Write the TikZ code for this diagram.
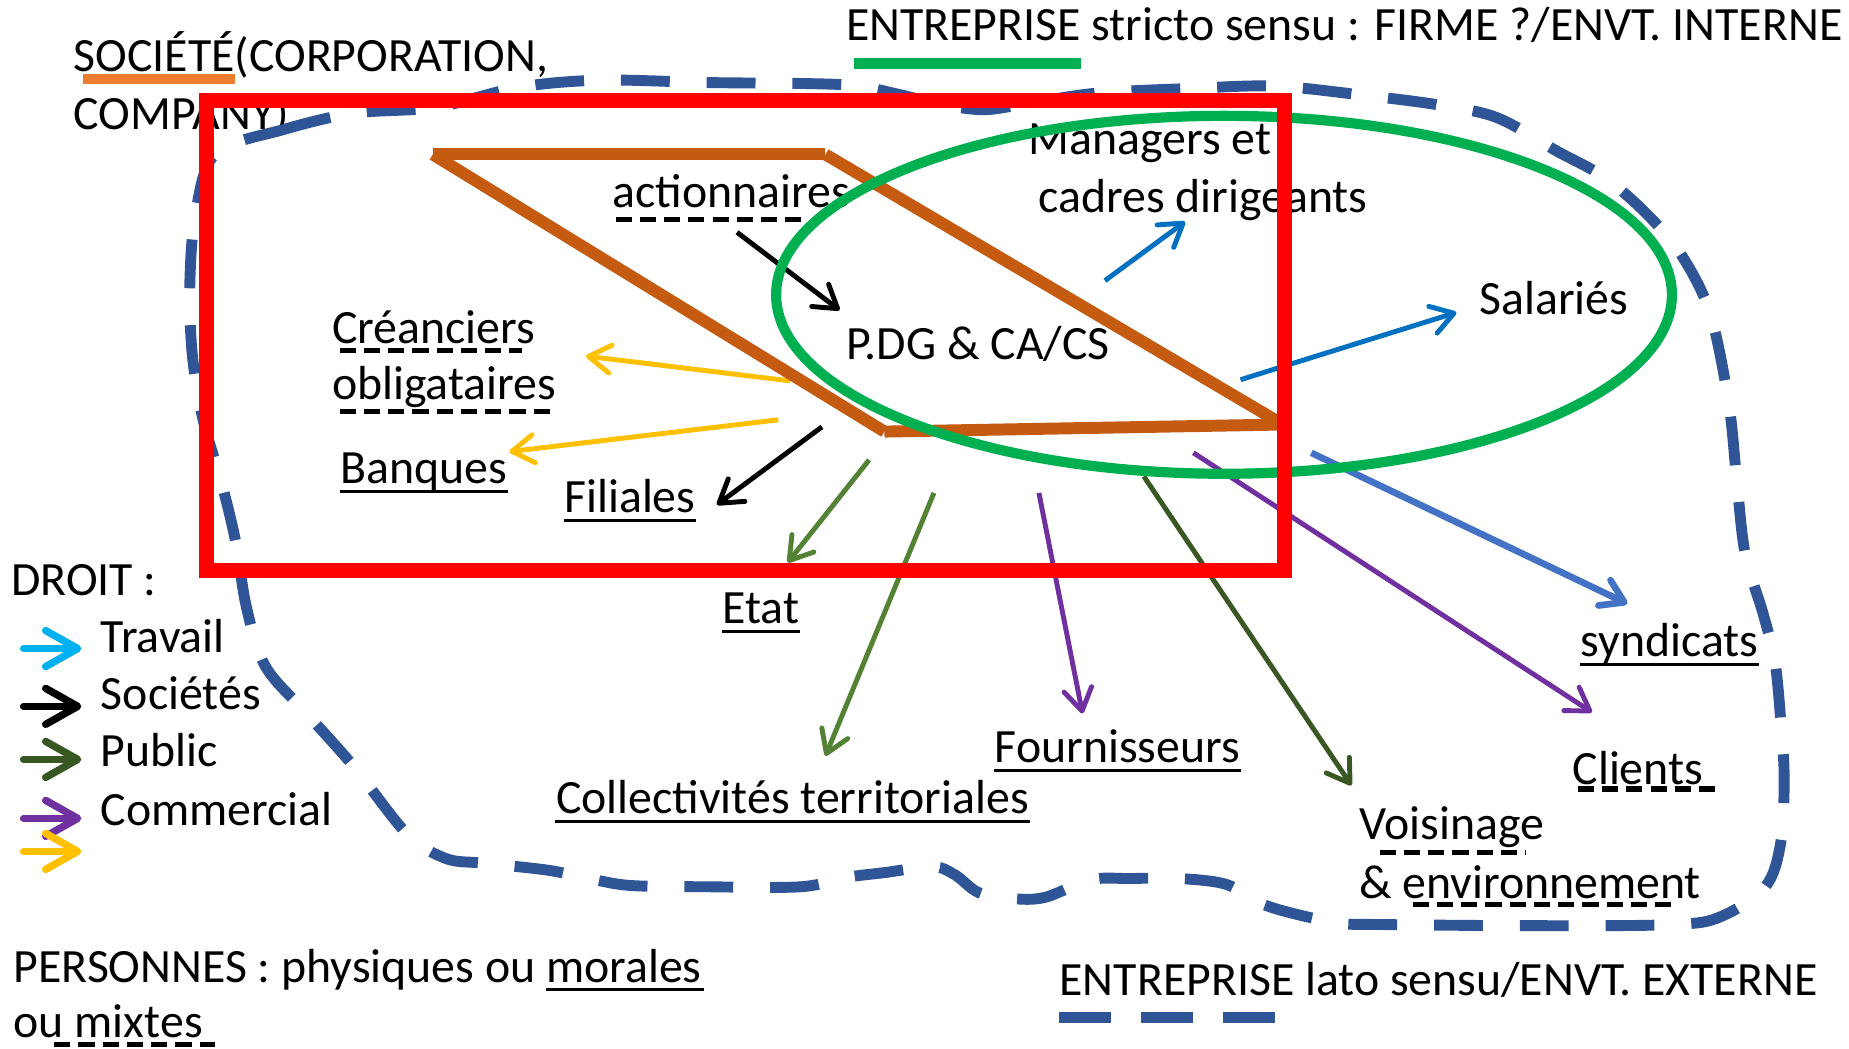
\documentclass[tikz,border=0pt]{standalone}
\usepackage{fontspec}
\setmainfont{Carlito}
\usetikzlibrary{positioning}
\usetikzlibrary{arrows.meta}
\definecolor{rougeR}{HTML}{FF0000}
\definecolor{brunS}{HTML}{C55A11}
\definecolor{vertE}{HTML}{00B050}
\definecolor{bleuP}{HTML}{2F5597}
\definecolor{orangeS}{HTML}{ED7D31}
\definecolor{bleuF}{HTML}{0070C0}
\definecolor{bleuS}{HTML}{4472C4}
\definecolor{cyanT}{HTML}{00B0F0}
\definecolor{vertP}{HTML}{385723}
\definecolor{vertC}{HTML}{548235}
\definecolor{violetC}{HTML}{7030A0}
\definecolor{jauneB}{HTML}{FFC000}

\begin{document}
\begin{tikzpicture}[x=0.01179cm,y=-0.01179cm,
	txt/.style={inner sep=0pt,anchor=base west,font=\fontsize{13.6}{16.3}\selectfont},
	fl/.style={line width=1.4pt,-{Straight Barb[length=2.2mm,width=2.8mm,round]}},
	flg/.style={line width=2.1pt,line cap=round,-{Straight Barb[length=3.2mm,width=3.6mm,round]}},
	sou/.style={line width=0.9pt},
	soup/.style={line width=1.5pt,dash pattern=on 4.6pt off 2.3pt},
	bord/.style={line width=3.4pt}]
	\useasboundingbox (0,0) rectangle (1568,889);
	\node [txt] at (62,61) (0soc) {SOCIÉTÉ(CORPORATION,}; \node [below=0.578cm of 0soc.base west,txt] (0comp) {COMPANY)};
	\node [txt] at (717,34) (0stricto) {ENTREPRISE stricto sensu : FIRME ?/ENVT. INTERNE};
	\node [txt] at (872,131) (1man) {Managers et}; \node [below right=0.578cm and 0.094cm of 1man.base west,txt] (1cad) {cadres dirigeants};
	\node [txt] at (519,176) (1act) {actionnaires};
	\node [txt] at (717,305) (1pdg) {P.DG \& CA/CS};
	\node [txt] at (1254,267) (1sal) {Salariés};
	\node [txt] at (281,291) (2cre) {Créanciers}; \node [below=0.566cm of 2cre.base west,txt] (2obl) {obligataires};
	\node [txt] at (288,410) (2ban) {Banques};
	\node [txt] at (478,435) (2fil) {Filiales};
	\node [txt] at (612,529) (2etat) {Etat};
	\node [txt] at (471,690) (2coll) {Collectivités territoriales};
	\node [txt] at (843,647) (2four) {Fournisseurs};
	\node [txt] at (1340,557) (2synd) {syndicats};
	\node [txt] at (1333,665) (2cli) {Clients};
	\node [txt] at (1152,712) (2vois) {Voisinage}; \node [below=0.59cm of 2vois.base west,txt] (2env) {\& environnement};
	\node [txt] at (898,844) (3lato) {ENTREPRISE lato sensu/ENVT. EXTERNE};
	\node [txt] at (9,505) (3droit) {DROIT :};
	\node [txt] at (85,553) (3trav) {Travail}; \node [below=0.578cm of 3trav.base west,txt] (3soc) {Sociétés};
	\node [below=0.566cm of 3soc.base west,txt] (3pub) {Public}; \node [below=0.59cm of 3pub.base west,txt] (3com) {Commercial};
	\node [txt] at (11,833) (3pers) {PERSONNES : physiques ou morales}; \node [below=0.554cm of 3pers.base west,txt] (3mix) {ou mixtes};
	\coordinate (l1) at (20,550); \coordinate (m1) at (69,550); \coordinate (l2) at (20,599); \coordinate (m2) at (69,599);
	\coordinate (l3) at (20,644); \coordinate (m3) at (69,644); \coordinate (l4) at (20,694); \coordinate (m4) at (69,694);
	\coordinate (l5) at (20,722); \coordinate (m5) at (69,722);
	\draw [flg,cyanT] (l1)--(m1); \draw [flg,black] (l2)--(m2); \draw [flg,vertP] (l3)--(m3); \draw [flg,violetC] (l4)--(m4); \draw [flg,jauneB] (l5)--(m5);
	\coordinate (a1) at (625,197); \coordinate (b1) at (712,263); \draw [fl,black] (a1)--(b1);
	\coordinate (a2) at (937,238); \coordinate (b2) at (1005,188); \draw [fl,bleuF] (a2)--(b2);
	\coordinate (a3) at (1052,322); \coordinate (b3) at (1235,265); \draw [fl,bleuF] (a3)--(b3);
	\coordinate (a4) at (670,323); \coordinate (b4) at (497,302); \draw [fl,jauneB] (a4)--(b4);
	\coordinate (a5) at (660,356); \coordinate (b5) at (432,383); \draw [fl,jauneB] (a5)--(b5);
	\coordinate (a6) at (697,362); \coordinate (b6) at (608,428); \draw [fl,black] (a6)--(b6);
	\coordinate (a7) at (737,390); \coordinate (b7) at (668,477); \draw [fl,vertC] (a7)--(b7);
	\coordinate (a8) at (792,418); \coordinate (b8) at (700,641); \draw [fl,vertC] (a8)--(b8);
	\coordinate (a9) at (881,418); \coordinate (b9) at (918,605); \draw [fl,violetC] (a9)--(b9);
	\coordinate (a10) at (970,404); \coordinate (b10) at (1146,666); \draw [fl,vertP] (a10)--(b10);
	\coordinate (a11) at (1012,384); \coordinate (b11) at (1350,604); \draw [fl,violetC] (a11)--(b11);
	\coordinate (a12) at (1112,384); \coordinate (b12) at (1380,512); \draw [fl,bleuS,line width=1.9pt] (a12)--(b12);
	\draw [bleuP,line width=3.1pt,dash pattern=on 13.9pt off 10.5pt] plot [smooth cycle,tension=0.55] coordinates {(183,130) (240,110) (300,96) (370,91) (440,74) (510,68) (600,70) (690,71) (728,73) (762,80) (800,89) (835,93) (870,88) (930,79) (1010,75) (1080,73) (1150,80) (1220,89) (1270,100) (1320,128) (1360,150) (1395,180) (1425,215) (1450,265) (1466,342) (1473,410) (1480,470) (1495,520) (1505,560) (1510,610) (1513,660) (1510,715) (1497,752) (1460,777) (1420,784) (1300,785) (1170,784) (1137,783) (1098,775) (1069,766) (1040,750) (1000,745) (958,745) (925,746) (886,761) (858,762) (830,757) (810,742) (791,735) (750,740) (718,744) (679,752) (600,752) (536,751) (504,746) (465,738) (410,732) (378,728) (345,707) (300,650) (260,605) (225,565) (209,515) (200,460) (188,410) (172,355) (163,300) (161,240) (166,180)};
	\coordinate (p1) at (367,131); \coordinate (p2) at (700,131); \coordinate (p3) at (1088,360); \coordinate (p4) at (750,366);
	\draw [bord,brunS] (p1)--(p2); \draw [bord,brunS] (p2)--(p3); \draw [bord,brunS] (p3)--(p4); \draw [bord,brunS] (p4)--(p1);
	\draw [vertE,line width=2.9pt] (1038,250) ellipse [x radius=4.48cm,y radius=1.79cm];
	\draw [rougeR,line width=4.2pt] (175,85.5) rectangle (1089,484);
	\draw [sou] ([yshift=-2.2pt]2ban.base west)--([yshift=-2.2pt]2ban.base east); \draw [sou] ([yshift=-2.2pt]2fil.base west)--([yshift=-2.2pt]2fil.base east);
	\draw [sou] ([yshift=-2.2pt]2etat.base west)--([yshift=-2.2pt]2etat.base east); \draw [sou] ([yshift=-2.2pt]2coll.base west)--([yshift=-2.2pt]2coll.base east);
	\draw [sou] ([yshift=-2.2pt]2four.base west)--([yshift=-2.2pt]2four.base east); \draw [sou] ([yshift=-2.2pt]2synd.base west)--([yshift=-2.2pt]2synd.base east);
	\draw [sou] (463,839)--(597,839);
	\draw [soup] (522,186)--(683,186); \draw [soup] (288,297)--(443,297); \draw [soup] (288,349)--(469,349);
	\draw [soup] (1338,669)--(1456,669); \draw [soup] (1170,723)--(1294,723); \draw [soup] (1198,767)--(1419,767); \draw [soup] (46,886)--(182,886);
	\draw [orangeS,line width=2.7pt] (70,67)--(199,67); \draw [vertE,line width=3.3pt] (724,54)--(917,54);
	\draw [bleuP,line width=3.3pt,dash pattern=on 14.7pt off 8.7pt] (898,863)--(1082,863);
\end{tikzpicture}
\end{document}
